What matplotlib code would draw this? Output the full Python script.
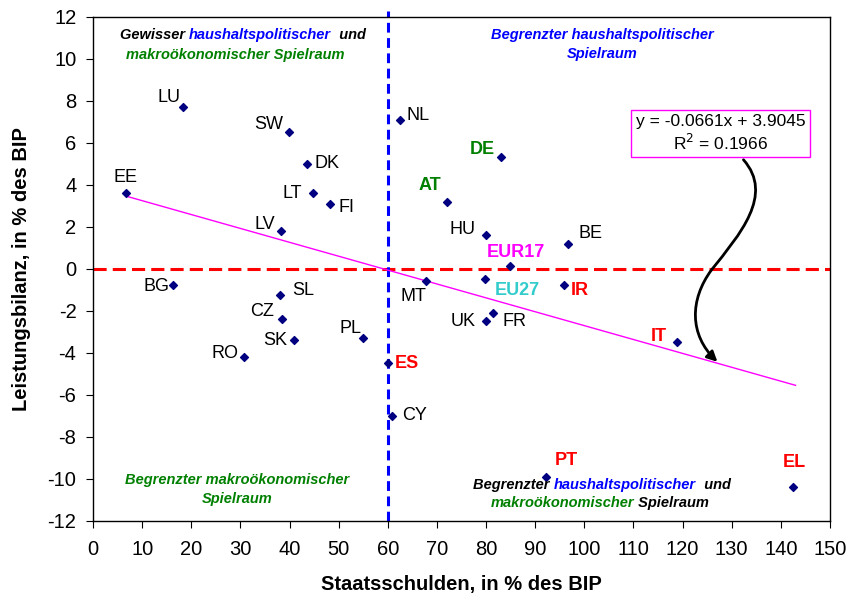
import matplotlib
matplotlib.use('Agg')
import matplotlib.pyplot as plt
from matplotlib.patches import FancyArrowPatch
from matplotlib.path import Path

plt.rcParams['font.family'] = ['Liberation Sans', 'DejaVu Sans']
plt.rcParams['axes.unicode_minus'] = False

# country data: debt (% GDP), current account (% GDP)
countries = ['LU', 'SW', 'DK', 'LT', 'FI', 'EE', 'LV', 'BG', 'SL', 'CZ', 'SK', 'RO', 'PL',
             'ES', 'CY', 'MT', 'NL', 'DE', 'AT', 'HU', 'BE', 'EUR17', 'EU27', 'IR', 'UK',
             'FR', 'IT', 'PT', 'EL']
debt = [18.3, 39.9, 43.5, 44.7, 48.2, 6.7, 38.2, 16.3, 38.0, 38.4, 40.9, 30.7, 54.9,
        60.0, 60.8, 67.7, 62.4, 83.0, 72.0, 79.9, 96.6, 84.8, 79.7, 95.8, 79.9,
        81.4, 118.8, 92.3, 142.4]
balance = [7.7, 6.5, 5.0, 3.6, 3.1, 3.6, 1.8, -0.76, -1.24, -2.4, -3.4, -4.2, -3.3,
           -4.5, -7.0, -0.6, 7.1, 5.3, 3.2, 1.6, 1.2, 0.14, -0.5, -0.76, -2.5,
           -2.1, -3.5, -9.9, -10.4]

# label styling
label_colors = {'ES': '#FF0000', 'IR': '#FF0000', 'IT': '#FF0000', 'PT': '#FF0000',
                'EL': '#FF0000', 'DE': '#008000', 'AT': '#008000',
                'EUR17': '#FF00FF', 'EU27': '#33CCCC'}
label_offsets = {'LU': (-14, 10), 'SW': (-20, 8), 'DK': (20, 0), 'LT': (-20, 0),
                 'FI': (17, -4), 'EE': (0, 16), 'LV': (-16, 6), 'BG': (-17, -2),
                 'SL': (23, 4), 'CZ': (-20, 8), 'SK': (-19, 0), 'RO': (-19, 4),
                 'PL': (-12, 10), 'ES': (19, 0), 'CY': (23, 0), 'MT': (-12, -15),
                 'NL': (18, 4), 'DE': (-18, 8), 'AT': (-17, 16), 'HU': (-23, 6),
                 'BE': (23, 10), 'EUR17': (6, 13), 'EU27': (33, -11), 'IR': (16, -6),
                 'UK': (-22, 0), 'FR': (22, -9), 'IT': (-18, 6), 'PT': (20, 16),
                 'EL': (2, 25)}

# trend line
slope = -0.0661
intercept = 3.9045
trend_x = [min(debt), 143.0]

fig = plt.figure(figsize=(8.46, 5.98), dpi=100)
ax = fig.add_axes([0.110, 0.129, 0.871, 0.843])

ax.set_xlim(0, 150)
ax.set_ylim(-12, 12)
ax.set_xticks(range(0, 151, 10))
ax.set_yticks(range(-12, 13, 2))
ax.tick_params(direction='out', labelsize=14.5, length=5)
ax.tick_params(axis='x', pad=9)
ax.tick_params(axis='y', pad=7)
for s in ax.spines.values():
    s.set_linewidth(1.0)

# reference lines
ax.axhline(0, color='#FF0000', lw=2.2, ls=(0, (4.3, 2)), zorder=1)
ax.plot([60, 60], [-12, 12.25], color='#0000FF', lw=2.2, ls=(0, (3.2, 1.8)),
        clip_on=False, zorder=1)

ax.plot(trend_x, [slope * x + intercept for x in trend_x], color='#FF00FF', lw=1, zorder=2)

ax.scatter(debt, balance, marker='D', s=16, color='#000080', zorder=3)

for name, x, y in zip(countries, debt, balance):
    c = label_colors.get(name, 'black')
    w = 'bold' if name in label_colors else 'normal'
    ax.annotate(name, (x, y), xytext=label_offsets[name], textcoords='offset pixels',
                ha='center', va='center', fontsize=13, color=c, fontweight=w)

# regression box
ax.text(127.7, 6.43, 'y = -0.0661x + 3.9045\nR$^2$ = 0.1966', ha='center', va='center',
        fontsize=12.5, linespacing=1.2,
        bbox=dict(boxstyle='square,pad=0.25', fc='white', ec='#FF00FF', lw=1))

# curved arrow
verts = [(132.4, 5.19), (138.7, 3.52), (131.6, 1.62), (125.9, -0.05),
         (121.4, -1.48), (121.4, -3.14), (127.1, -4.43)]
codes = [Path.MOVETO, Path.CURVE4, Path.CURVE4, Path.CURVE4,
         Path.CURVE4, Path.CURVE4, Path.CURVE4]
arrow = FancyArrowPatch(path=Path(verts, codes), arrowstyle='-|>', mutation_scale=15,
                        lw=2, color='black', transform=ax.transData, zorder=4)
ax.add_patch(arrow)


def multicolor(x, y, parts, size=10.5):
    t = ax.text(x, y, parts[0][0], color=parts[0][1], fontsize=size,
                fontweight='bold', style='italic', ha='left', va='center')
    for s, c in parts[1:]:
        t = ax.annotate(s, xy=(1, 0), xycoords=t, va='bottom', ha='left', color=c,
                        fontsize=size, fontweight='bold', style='italic')


green = '#008000'
blue = '#0000FF'
multicolor(5.4, 11.15, [('Gewisser ', 'black'), ('haushaltspolitischer', blue),
                        ('  und', 'black')])
ax.text(29.0, 10.2, 'makroökonomischer Spielraum', color=green, fontsize=10.5,
        fontweight='bold', style='italic', ha='center', va='center')
ax.text(103.7, 10.68, 'Begrenzter haushaltspolitischer\nSpielraum', color=blue,
        fontsize=10.5, fontweight='bold', style='italic', ha='center', va='center',
        linespacing=1.45)
ax.text(29.3, -10.5, 'Begrenzter makroökonomischer\nSpielraum', color=green,
        fontsize=10.5, fontweight='bold', style='italic', ha='center', va='center',
        linespacing=1.45)
multicolor(77.3, -10.29, [('Begrenzter ', 'black'), ('haushaltspolitischer', blue),
                          ('  und', 'black')])
multicolor(80.9, -11.16, [('makroökonomischer', green), (' Spielraum', 'black')])

ax.set_xlabel('Staatsschulden, in % des BIP', fontsize=14.5, fontweight='bold', labelpad=11)
ax.set_ylabel('Leistungsbilanz, in % des BIP', fontsize=14.5, fontweight='bold', labelpad=12)

fig.savefig('out.png', dpi=100)
